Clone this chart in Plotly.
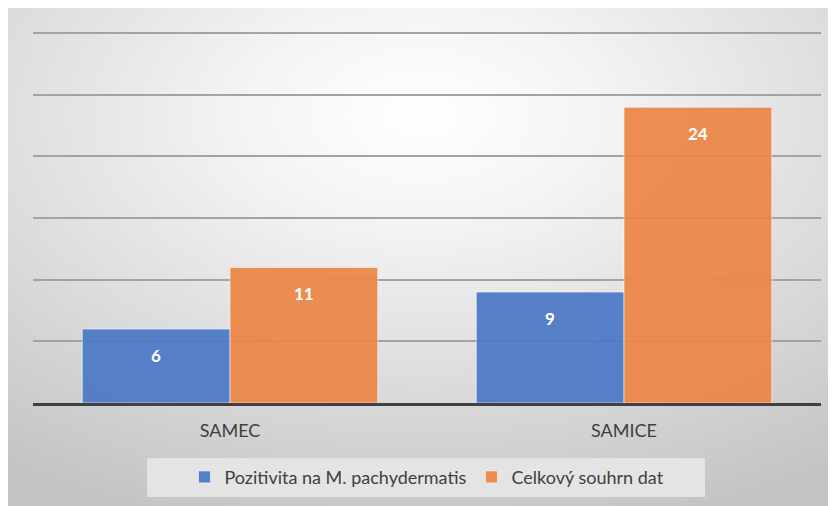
import base64
import plotly.graph_objects as go

# =========================================================
# DATA
# =========================================================
kategorie = ['SAMEC', 'SAMICE']
pozitivita = [6, 9]
celkem = [11, 24]
serie_nazvy = ['Pozitivita na M. pachydermatis', 'Celkový souhrn dat']

# =========================================================
# POZADÍ (radiální přechod jako v Excelu)
# =========================================================
svg = (
    "<svg xmlns='http://www.w3.org/2000/svg' width='830' height='501'>"
    "<defs><radialGradient id='g' cx='0.5' cy='0.22' r='0.85'>"
    "<stop offset='0' stop-color='#ffffff'/>"
    "<stop offset='0.25' stop-color='#f4f4f4'/>"
    "<stop offset='1' stop-color='#c4c4c4'/>"
    "</radialGradient></defs>"
    "<rect width='830' height='501' fill='url(#g)'/></svg>"
)
svg_uri = 'data:image/svg+xml;base64,' + base64.b64encode(svg.encode()).decode()

# =========================================================
# GRAF
# =========================================================
bargap = 0.25
fig = go.Figure()

fig.add_trace(go.Bar(
    x=kategorie, y=pozitivita, name=serie_nazvy[0],
    marker=dict(color='#4b78c6', line=dict(color='rgba(255,255,255,0.6)', width=1)),
    opacity=0.92
))
fig.add_trace(go.Bar(
    x=kategorie, y=celkem, name=serie_nazvy[1],
    marker=dict(color='#ec8544', line=dict(color='rgba(255,255,255,0.6)', width=1)),
    opacity=0.92
))

# popisky dat uvnitř sloupců
sirka = (1 - bargap) / 2
for serie, posun in [(pozitivita, -sirka / 2), (celkem, sirka / 2)]:
    for i, hodnota in enumerate(serie):
        fig.add_annotation(
            x=i + posun, y=hodnota, xref='x', yref='y',
            text=f'<b>{hodnota}</b>', showarrow=False,
            yanchor='middle', yshift=-26,
            font=dict(color='white', size=17, family='Lato')
        )

# stránka má okraj 8 px, proto je vše posunuté
fig.add_layout_image(
    source=svg_uri, xref='paper', yref='paper',
    x=(-2 - 25) / 788, y=1 + (24 + 3) / 371,
    sizex=830 / 788, sizey=501 / 371,
    sizing='stretch', layer='below', xanchor='left', yanchor='top'
)

# podklad legendy (širší než vlastní box legendy)
fig.add_shape(
    type='rect', xref='paper', yref='paper',
    x0=0.1447, x1=0.8528, y0=-0.2534, y1=-0.1482,
    fillcolor='#e4e4e4', line=dict(width=0), layer='above'
)

fig.update_layout(
    width=836, height=506,
    margin=dict(l=25, r=23, t=24, b=111, autoexpand=False),
    paper_bgcolor='white',
    plot_bgcolor='rgba(0,0,0,0)',
    barmode='group', bargap=bargap, bargroupgap=0,
    font=dict(family='Lato', color='#404040', size=18),
    showlegend=True,
    legend=dict(
        orientation='h', x=0.5, xanchor='center', y=-0.2, yanchor='middle',
        bgcolor='rgba(0,0,0,0)', font=dict(size=18, color='#404040'),
        itemwidth=30
    ),
    xaxis=dict(
        showline=True, linecolor='#404040', linewidth=3,
        ticks='', ticklabelstandoff=9, tickfont=dict(size=18, color='#404040')
    ),
    yaxis=dict(
        range=[0, 30.1], tick0=0, dtick=5, showticklabels=False,
        showgrid=True, gridcolor='#a3a3a3', gridwidth=2, zeroline=False
    )
)

fig.write_html('out.html')
